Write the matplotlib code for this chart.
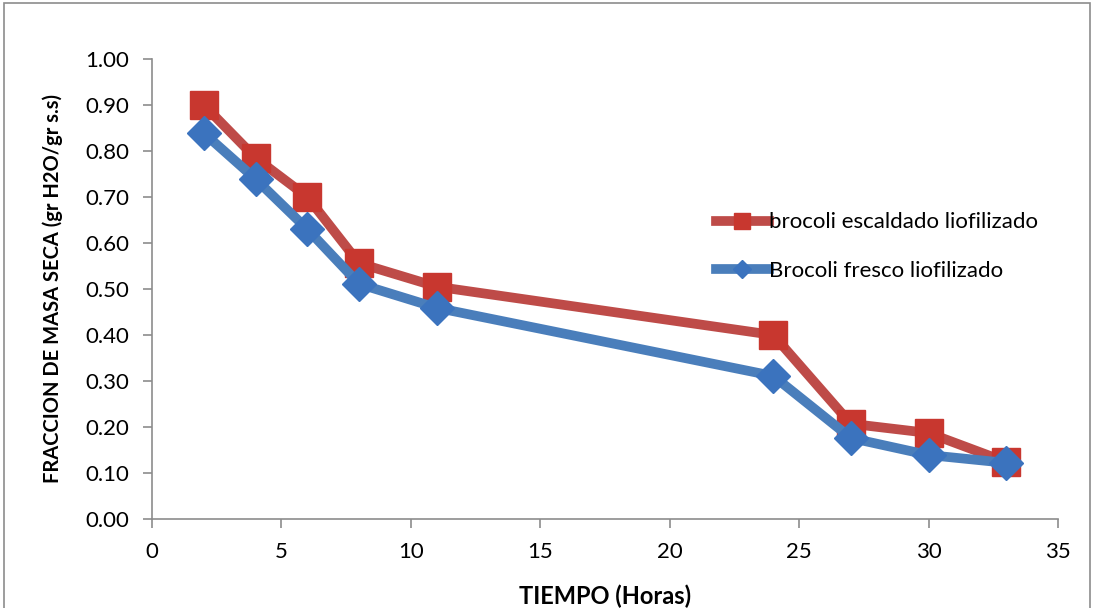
import matplotlib.pyplot as plt
from matplotlib.patches import Rectangle

# tiempo en horas
tiempo = [2, 4, 6, 8, 11, 24, 27, 30, 33]
escaldado = [0.90, 0.785, 0.70, 0.556, 0.505, 0.40, 0.207, 0.187, 0.124]
fresco = [0.839, 0.739, 0.63, 0.511, 0.459, 0.311, 0.176, 0.139, 0.122]

label_esc = "brocoli escaldado liofilizado"
label_fre = "Brocoli fresco liofilizado"

plt.rcParams['font.family'] = ['Lato', 'DejaVu Sans']

fig = plt.figure(figsize=(10.97, 6.08), dpi=100)
ax = fig.add_axes([0.1386, 0.1464, 0.8258, 0.7566])

# marco exterior
fig.patches.append(Rectangle((0.004, -0.01), 0.99, 1.005, transform=fig.transFigure,
                             fill=False, edgecolor='#8c8c8c', lw=1.2))

ax.plot(tiempo, fresco, color='#4A7EBB', lw=7, marker='D', markersize=17,
        markerfacecolor='#3B73BE', markeredgecolor='#3B73BE', label=label_fre, zorder=3)
ax.plot(tiempo, escaldado, color='#BE4B48', lw=7, marker='s', markersize=20,
        markerfacecolor='#C8372F', markeredgecolor='#C8372F', label=label_esc, zorder=2)

ax.set_xlim(0, 35)
ax.set_ylim(0, 1.0)
ax.set_xticks([0, 5, 10, 15, 20, 25, 30, 35])
ax.set_yticks([i / 10 for i in range(11)])
ax.set_yticklabels([f"{i / 10:.2f}" for i in range(11)])

for s in ['top', 'right']:
    ax.spines[s].set_visible(False)
for s in ['left', 'bottom']:
    ax.spines[s].set_color('#8c8c8c')
    ax.spines[s].set_linewidth(1.2)
ax.tick_params(axis='both', colors='#8c8c8c', length=6.5, width=1.2, labelsize=16,
               labelcolor='black')
ax.tick_params(axis='y', pad=10)
ax.tick_params(axis='x', pad=10)

ax.set_xlabel("TIEMPO (Horas)", fontsize=17, fontweight='bold', labelpad=16)
ax.set_ylabel("FRACCION DE MASA SECA (gr H2O/gr s.s)", fontsize=14.5, fontweight='bold', labelpad=16)

handles, labels = ax.get_legend_handles_labels()
ax.legend(handles[::-1], labels[::-1], loc='upper left', bbox_to_anchor=(0.6, 0.71),
          frameon=False, fontsize=16, handlelength=2.4, handletextpad=0.0,
          labelspacing=1.3, markerscale=0.55)

fig.savefig("out.png", dpi=100)
